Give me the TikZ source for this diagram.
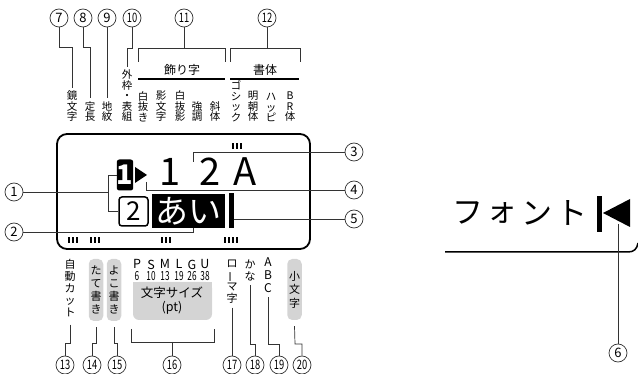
\documentclass[tikz,border=0pt]{standalone}
\usepackage{fontspec}
\setmainfont{Noto Sans CJK JP}
\usepackage{graphicx}
\definecolor{ln}{HTML}{333333}
\definecolor{gbox}{HTML}{D4D4D4}
\newcommand{\tw}[1]{\scalebox{0.72}[1]{#1}}
\newcommand{\vbar}{\rotatebox[origin=c]{90}{ー}}
\begin{document}
\begin{tikzpicture}[x=1pt,y=-1pt,
  ld/.style={draw=ln, line width=0.7pt},
  num/.style={circle, draw=ln, line width=0.7pt, minimum size=18pt, inner sep=0pt, font=\fontsize{13}{13}\selectfont},
  vt/.style={align=center, inner sep=0pt, font=\fontsize{10.5}{10.5}\selectfont, anchor=south},
  vb/.style={align=center, inner sep=0pt, font=\fontsize{11}{11.8}\selectfont, anchor=north},
  gb/.style={fill=gbox, rounded corners=5pt, inner sep=0pt, minimum width=14.5pt, align=center, font=\fontsize{11}{13}\selectfont},
  thick line/.style={line width=1.8pt},
  big/.style={font=\fontsize{38}{38}\selectfont, anchor=base, inner sep=0pt},
  kana/.style={font=\fontsize{31}{31}\selectfont, inner sep=0pt},
  sml/.style={font=\fontsize{12}{12}\selectfont, inner sep=0pt},
  sz/.style={font=\fontsize{12.5}{11.5}\selectfont, inner sep=0pt, align=center, anchor=north},
]
\useasboundingbox (0,0) rectangle (638,374);

% ---------- top circled numbers ----------
\node[num] (c7) at (59,18) {7};
\node[num] (c8) at (83,18) {8};
\node[num] (c9) at (107,18) {9};
\node[num] (c10) at (132,18) {\tw{10}};
\node[num] (c11) at (184,18) {\tw{11}};
\node[num] (c12) at (267,18) {\tw{12}};

% ---------- top labels ----------
\node[vt] (t1) at (72,122) {鏡\\文\\字};
\node[vt] (t2) at (90,122) {定\\長};
\node[vt] (t3) at (107,122) {地\\紋};
\node[vt] (t4) at (127,122) {外\\枠\\・\\表\\組};
\node[vt] (t5) at (143,122) {白\\抜\\き};
\node[vt] (t6) at (161,122) {影\\文\\字};
\node[vt] (t7) at (180,122) {白\\抜\\影};
\node[vt] (t8) at (197,122) {強\\調};
\node[vt] (t9) at (215,122) {斜\\体};
\node[vt] (t10) at (236,122) {ゴ\\シ\\ッ\\ク};
\node[vt] (t11) at (253,122) {明\\朝\\体};
\node[vt] (t12) at (271,122) {ハ\\ッ\\ピ};
\node[vt] (t13) at (290,122) {B\\R\\体};

\node[sml] (kz) at (182,70) {飾り字};
\node[sml] (st) at (265,70) {書体};
\draw[thick line] (138,79) -- (225,79);
\draw[thick line] (230,79) -- (299,79);

% top leaders
\draw[ld] (c7.south) -- (59,47) -| ([yshift=3pt]t1.north);
\draw[ld] (c8.south) -- (83,47) -| ([yshift=3pt]t2.north);
\draw[ld] (c9.south) -- ([yshift=3pt]t3.north);
\draw[ld] (c10.south) -- (132,48) -| ([yshift=3pt]t4.north);
\draw[ld] (c11.south) -- (184,48);
\draw[ld] (138,62) -- (138,48) -- (225,48) -- (225,62);
\draw[ld] (c12.south) -- (267,48);
\draw[ld] (230,62) -- (230,48) -- (300,48) -- (300,62);

% ---------- display ----------
\draw[thick line, rounded corners=10pt] (57,134) rectangle (310,249);
% indicator bars
\foreach \x in {232,236,240} {\fill (\x,143) rectangle ++(2.4,6);}
\foreach \x in {68,72,76} {\fill (\x,237) rectangle ++(2.4,6.5);}
\foreach \x in {90,94,98} {\fill (\x,237) rectangle ++(2.4,6.5);}
\foreach \x in {161,165,169} {\fill (\x,237) rectangle ++(2.4,6.5);}
\foreach \x in {224,228,232,236} {\fill (\x,237) rectangle ++(2.4,6.5);}

\node[fill=black, rounded corners=2.5pt, minimum width=15pt, minimum height=31pt, inner sep=0pt, text=white, font=\fontsize{27}{27}\selectfont\bfseries] (k1) at (125,175) {1};
\fill (135,167) -- (147,175) -- (135,183) -- cycle;
\coordinate (tri) at (146,182);
\node[draw, line width=1.5pt, rounded corners=3pt, minimum size=29pt, inner sep=0pt, font=\fontsize{26}{26}\selectfont] (k2) at (133.5,211.5) {2};
\node[fill=black, minimum width=73pt, minimum height=34pt, inner sep=0pt, text=white, font=\fontsize{33}{33}\selectfont] (ai) at (188.5,211) {あい};
\fill (229,193) rectangle (233.5,228);
\coordinate (cur) at (233.5,219);

\node[big] (d1) at (170,186) {1};
\node[big] (d2) at (210,186) {2};
\node[big] (dA) at (245,186) {A};

% right-side circles
\node[num] (c3) at (354,152) {3};
\node[num] (c4) at (354,190) {4};
\node[num] (c5) at (354,219) {5};
\coordinate (p3) at (193,162);
\draw[ld] (p3) -- (193,152) -- (c3.west);
\draw[ld] (tri) -- (146,190) -- (c4.west);
\draw[ld] (cur) -- (c5.west);

% left circles
\node[num] (c1) at (14,192) {1};
\node[num] (c2) at (14,232) {2};
\draw[ld] (c1.east) -- (108,192);
\draw[ld] (k1.west) -- (108,175) -- (108,211.5) -- (k2.west);
\draw[ld] (c2.east) -| ([xshift=4.5pt]ai.south);

% ---------- bottom labels ----------
\node[vb] (b1) at (70,259.5) {自\\動\\カ\\ッ\\ト};
\node[gb, minimum height=62pt] (g1) at (96,290) {た\\て\\書\\き};
\node[gb, minimum height=62pt] (g2) at (114,290) {よ\\こ\\書\\き};

\fill[gbox, rounded corners=6pt] (133,282) rectangle (212,320);
\fill[gbox] (133,282) rectangle (212,292);
\node[align=center, inner sep=0pt, font=\fontsize{12.5}{14.5}\selectfont] (fs) at (172,300.5) {文字サイズ\\(pt)};

\node[sz] (s1) at (137,259.5) {P\\\scalebox{0.66}[1]{6}};
\node[sz] (s2) at (151,259.5) {S\\\scalebox{0.66}[1]{10}};
\node[sz] (s3) at (165,259.5) {M\\\scalebox{0.66}[1]{13}};
\node[sz] (s4) at (179,259.5) {L\\\scalebox{0.66}[1]{19}};
\node[sz] (s5) at (192,259.5) {G\\\scalebox{0.66}[1]{26}};
\node[sz] (s6) at (205,259.5) {U\\\scalebox{0.66}[1]{38}};

\node[vb] (b17) at (232,259.5) {ロ\\\vbar\\マ\\字};
\node[vb] (b18) at (250,259.5) {か\\な};
\node[vb, font=\fontsize{12}{13}\selectfont] (b19) at (268,258) {A\\B\\C};
\node[gb, minimum height=61pt, font=\fontsize{11}{13.5}\selectfont] (g3) at (294.5,289.5) {小\\文\\字};

% bottom circles
\node[num] (c13) at (65,365) {\tw{13}};
\node[num] (c14) at (92,365) {\tw{14}};
\node[num] (c15) at (117,365) {\tw{15}};
\node[num] (c16) at (172,365) {\tw{16}};
\node[num] (c17) at (232,365) {\tw{17}};
\node[num] (c18) at (255,365) {\tw{18}};
\node[num] (c19) at (279,365) {\tw{19}};
\node[num] (c20) at (302,365) {\tw{20}};

\draw[ld] ([yshift=-8pt]b1.south) -- (70,343) -| (c13.north);
\draw[ld] ([yshift=-6pt]g1.south) -- (96,343) -| (c14.north);
\draw[ld] ([yshift=-6pt]g2.south) -- (114,343) -| (c15.north);
\draw[ld] (131,329) -- (131,342) -- (214,342) -- (214,329);
\draw[ld] (172,342) -- (c16.north);
\draw[ld] ([yshift=-4pt]b17.south) -- (c17.north);
\draw[ld] ([yshift=-4pt]b18.south) -- (250,344) -| (c18.north);
\draw[ld] ([yshift=-4pt]b19.south) -- (268,344) -| (c19.north);
\draw[ld] ([yshift=-6pt]g3.south) -- (295,344) -| (c20.north);

% ---------- right detail ----------
\node[kana] (f1) at (468,213) {フ};
\node[kana] (f2) at (502,213) {ォ};
\node[kana] (f3) at (537,213) {ン};
\node[kana] (f4) at (572,213) {ト};
\fill (597,196) rectangle (601.5,232);
\fill (603,213) -- (630,199) -- (630,227) -- cycle;
\draw[line width=1.5pt] (445,252) -- (628,252) .. controls (634,252) and (637,249) .. (638,243);
\node[num] (c6) at (618,353) {6};
\coordinate (p6) at (618,224);
\draw[ld] (p6) -- (c6.north);
\end{tikzpicture}
\end{document}
